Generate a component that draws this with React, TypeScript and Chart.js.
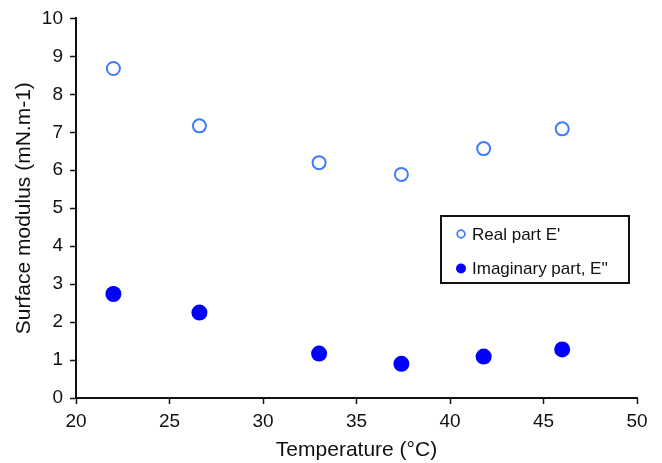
import React, { useEffect, useRef } from "react";
import { Chart, registerables } from "chart.js";

Chart.register(...registerables);

const temperatures = [22.0, 26.6, 33.0, 37.4, 41.8, 46.0];
const realPart = [8.68, 7.17, 6.2, 5.89, 6.57, 7.09];
const imaginaryPart = [2.74, 2.25, 1.17, 0.9, 1.09, 1.28];
const seriesNames = ["Real part E'", "Imaginary part, E''"];
const xTitle = "Temperature (°C)";
const yTitle = "Surface modulus (mN.m-1)";

const FONT = "'Liberation Sans', Arial, Helvetica, sans-serif";

const legendBoxPlugin = {
  id: "legendBox",
  afterDraw(chart: any) {
    const ctx = chart.ctx;
    const x0 = 441, y0 = 216, w = 188, h = 67;
    ctx.save();
    ctx.strokeStyle = "#111";
    ctx.lineWidth = 2;
    ctx.strokeRect(x0, y0, w, h);
    ctx.font = `17px ${FONT}`;
    ctx.textBaseline = "middle";
    ctx.fillStyle = "#111";
    const rows = [y0 + 18, y0 + 52.5];
    chart.data.datasets.forEach((ds: any, i: number) => {
      const cy = rows[i];
      ctx.beginPath();
      ctx.arc(x0 + 20, cy, i === 0 ? 3.8 : 5, 0, Math.PI * 2);
      if (i === 0) {
        ctx.lineWidth = 1.8;
        ctx.strokeStyle = ds.borderColor;
        ctx.stroke();
      } else {
        ctx.fillStyle = ds.backgroundColor;
        ctx.fill();
      }
      ctx.fillStyle = "#111";
      ctx.fillText(ds.label, x0 + 31, cy + 1);
    });
    ctx.restore();
  },
};

export default function App() {
  const ref = useRef<HTMLCanvasElement | null>(null);
  useEffect(() => {
    document.body.style.margin = "0";
    if (!ref.current) return;
    const chart = new Chart(ref.current, {
      type: "scatter",
      data: {
        datasets: [
          {
            label: seriesNames[0],
            data: temperatures.map((t, i) => ({ x: t, y: realPart[i] })),
            pointRadius: 6.5,
            pointBorderWidth: 2,
            borderColor: "#3f7bff",
            backgroundColor: "rgba(255,255,255,0)",
            pointBackgroundColor: "rgba(255,255,255,0)",
            pointBorderColor: "#3f7bff",
          },
          {
            label: seriesNames[1],
            data: temperatures.map((t, i) => ({ x: t, y: imaginaryPart[i] })),
            pointRadius: 8,
            pointBorderWidth: 0,
            borderColor: "#0000ff",
            backgroundColor: "#0000ff",
            pointBackgroundColor: "#0000ff",
          },
        ],
      },
      options: {
        responsive: false,
        animation: false,
        layout: { padding: { top: 16, right: 25, left: 0, bottom: 0 } },
        plugins: { legend: { display: false }, tooltip: { enabled: false } },
        scales: {
          x: {
            type: "linear",
            min: 20,
            max: 50,
            ticks: { stepSize: 5, color: "#111", font: { family: FONT, size: 19 }, padding: 6 },
            grid: { drawOnChartArea: false, drawTicks: true, tickLength: 6, tickColor: "#111", tickWidth: 1.5 },
            border: { display: true, color: "#111", width: 2 },
            title: { display: true, text: xTitle, color: "#111", font: { family: FONT, size: 21 }, padding: { top: 0, bottom: 0 } },
            afterFit: (s: any) => { s.height = 65; },
          },
          y: {
            type: "linear",
            min: 0,
            max: 10,
            ticks: { stepSize: 1, color: "#111", font: { family: FONT, size: 19 }, padding: 7 },
            grid: { drawOnChartArea: false, drawTicks: true, tickLength: 6, tickColor: "#111", tickWidth: 1.5 },
            border: { display: true, color: "#111", width: 2 },
            title: { display: true, text: yTitle, color: "#111", font: { family: FONT, size: 21 }, padding: { top: 12, bottom: 0 } },
            afterFit: (s: any) => { s.width = 76; },
          },
        },
      },
      plugins: [legendBoxPlugin],
    } as any);
    return () => chart.destroy();
  }, []);
  return (
    <div style={{ position: "absolute", left: 0, top: 0, width: 662, height: 463, background: "#fff" }}>
      <canvas ref={ref} width={662} height={463} style={{ display: "block" }} />
    </div>
  );
}
